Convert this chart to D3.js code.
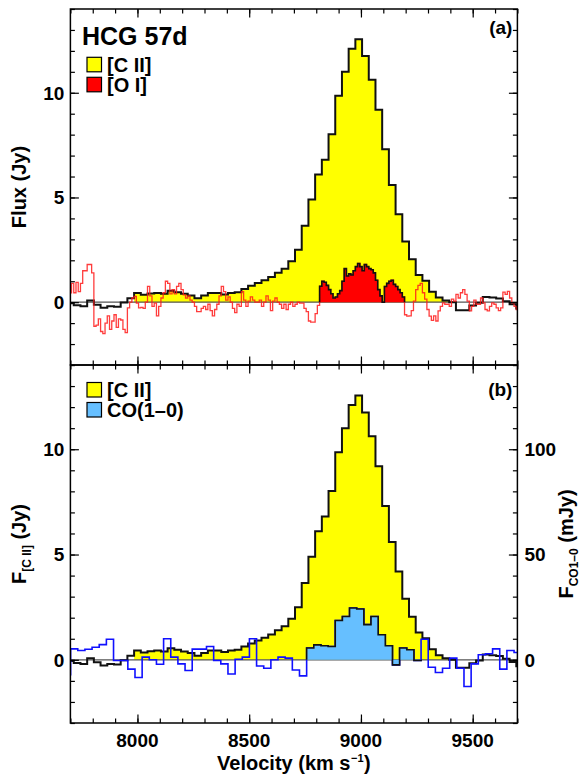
<!DOCTYPE html>
<html><head><meta charset="utf-8">
<script src="https://cdn.jsdelivr.net/npm/d3@7"></script>
<style>
body{margin:0;background:#fff}
svg{display:block}
text{font-family:"Liberation Sans",Arial,Helvetica,sans-serif;font-weight:bold;fill:#000}
</style></head>
<body><svg id="chart" width="582" height="777"></svg>
<script>
// ---------- DATA ----------
// [C II] spectrum (Jy), 30 km/s channels, first channel centred at 7700 km/s
const ciiStart = 7700, ciiStep = 30;
const ciiFlux = [-0.05,-0.15,-0.2,0.08,-0.12,-0.27,-0.2,-0.22,-0.02,0.19,
  0.44,0.35,0.41,0.44,0.4,0.55,0.48,0.4,0.32,0.19,
  0.32,0.44,0.44,0.37,0.44,0.48,0.63,0.78,0.92,1.05,
  1.2,1.4,1.6,1.95,2.5,3.65,4.9,6.1,6.8,8.02,
  9.86,11.0,12.1,12.55,11.75,10.62,9.19,7.3,5.6,4.2,
  2.9,2.05,1.3,1.02,0.5,0.22,0.08,0.0,-0.38,-0.38,
  -0.16,-0.03,0.25,0.22,0.18,0.05,-0.1,-0.3];
const ciiFillRange = [10, 56];   // channel indices with yellow fill

// [O I] spectrum (Jy), 10 km/s channels, first channel centred at 7700 km/s
const oiStart = 7700, oiStep = 10;
const oiFlux = [0.45,0.9,0.45,0.95,0.5,0.9,1.5,1.5,1.8,1.8,1.4,
  -1.15,-1.1,-0.8,-1.4,-1.5,-1.0,-0.65,-1.3,-0.9,-0.6,-1.2,-0.8,-0.85,-1.3,-1.45,
  -0.27,0.0,0.2,0.28,-0.05,-0.27,-0.25,-0.3,0.0,0.75,0.3,-0.2,-0.05,-0.65,-0.2,
  0.2,0.45,1.0,0.9,0.4,0.6,0.4,0.75,0.9,0.6,0.35,0.2,0.3,0.1,0.0,
  -0.2,-0.45,-0.45,-0.3,-0.2,-0.35,-0.1,-0.4,-0.65,-0.35,-0.1,0.3,0.75,0.5,0.1,
  0.25,0.0,-0.3,-0.5,-0.1,-0.2,0.5,0.1,-0.2,0.05,0.25,0.1,0.0,0.0,0.1,
  -0.2,0.0,0.3,0.1,-0.4,0.05,0.2,0.0,-0.1,-0.3,-0.1,-0.35,-0.1,0.0,-0.2,
  -0.1,0.0,-0.05,-0.05,-0.3,-0.45,-0.9,-0.95,-0.95,-0.55,-0.15,
  0.76,1.0,0.95,0.8,0.6,0.4,0.2,0.25,0.4,0.55,1.0,1.6,1.25,1.35,1.3,1.5,1.7,1.85,1.7,1.5,
  1.8,1.7,1.6,1.55,1.4,1.05,0.6,0.3,0.0,0.75,0.9,1.0,1.05,0.85,0.75,0.6,0.45,0.25,
  -0.6,-0.67,-0.65,-0.4,0.05,0.6,0.8,0.9,0.45,0.15,-0.35,-0.67,-0.87,-0.65,-0.9,-0.42,
  -0.2,-0.03,-0.1,-0.1,-0.2,0.15,0.05,0.37,0.2,0.45,0.6,0.37,0.05,-0.42,-0.2,0.1,
  -0.1,-0.1,0.2,-0.03,-0.35,-0.42,-0.2,-0.03,-0.1,-0.27,-0.4,-0.27,0.48,0.37,0.52,
  0.2,-0.03,-0.2,-0.35];
const oiFillRange = [112, 149];

// CO(1-0) spectrum (mJy), 32 km/s channels, first channel centred at 7685 km/s
const coStart = 7685, coStep = 32;
const coFlux = [-7.1,5.2,4.4,5.0,6.0,7.2,9.8,-0.3,-0.3,-4.4,
  -8.4,1.3,0.0,-2.1,10.0,1.3,-1.9,-5.1,5.1,5.1,
  6.3,-0.3,-1.9,-6.7,0.3,1.3,10.0,-2.9,-4.0,0.0,
  1.3,0.8,-4.8,-7.6,5.6,7.1,6.7,6.3,18.7,20.6,
  24.6,24.1,16.7,20.6,11.9,6.7,-2.4,5.6,4.8,-0.3,
  9.8,-3.5,-6.0,-4.0,0.8,-4.0,-12.7,-1.9,2.4,2.9,
  5.2,-4.4,4.4,3.5];
const coFillRange = [34, 49];

// axes
const velDomain = [7700, 9700];
const fluxDomain = [-3, 14];
const coDomain = [-30, 140];
const velMajor = [8000, 8500, 9000, 9500];
const velMinor = d3.range(7700, 9701, 100);
const fluxMajor = [0, 5, 10];
const fluxMinor = d3.range(-3, 14.01, 1);
const coMajor = [0, 50, 100];
const coMinor = d3.range(-30, 140.1, 10);

// ---------- LAYOUT ----------
const svg = d3.select("#chart");
const L = 70.4, R = 517.4, T = 9, M = 365, B = 723;
const x = d3.scaleLinear().domain(velDomain).range([L, R]);
const yA = d3.scaleLinear().domain(fluxDomain).range([M, T]);
const yB = d3.scaleLinear().domain(fluxDomain).range([B, M]);
const yCO = d3.scaleLinear().domain(coDomain).range([B, M]);

const defs = svg.append("defs");
defs.append("clipPath").attr("id","clipA").append("rect").attr("x",L).attr("y",T).attr("width",R-L).attr("height",M-T);
defs.append("clipPath").attr("id","clipB").append("rect").attr("x",L).attr("y",M).attr("width",R-L).attr("height",B-M);

function bins(start, step, vals){
  return vals.map((v,i)=>({a:start+i*step-step/2, b:start+i*step+step/2, v}));
}
function pts(bs){ const p=[]; bs.forEach(d=>{p.push([d.a,d.v]);p.push([d.b,d.v]);}); return p; }
function closedPts(bs){ const p=pts(bs); p.unshift([bs[0].a,0]); p.push([bs[bs.length-1].b,0]); return p; }

const ciiB = bins(ciiStart, ciiStep, ciiFlux);
const oiB = bins(oiStart, oiStep, oiFlux);
const coB = bins(coStart, coStep, coFlux);

function gens(ys){
  return {
    area: d3.area().x(d=>x(d[0])).y0(ys(0)).y1(d=>ys(d[1])),
    line: d3.line().x(d=>x(d[0])).y(d=>ys(d[1]))
  };
}

// ---------- PANEL A ----------
const gA = svg.append("g").attr("clip-path","url(#clipA)");
const pA = gens(yA);
const ciiFill = pts(ciiB.slice(ciiFillRange[0], ciiFillRange[1]+1));
gA.append("path").attr("d", pA.area(ciiFill)).attr("fill","#ffff00");
gA.append("path").attr("d", pA.line([[velDomain[0],0],[velDomain[1],0]])).attr("stroke","#555").attr("stroke-width",1.2).attr("fill","none");
gA.append("path").attr("d", pA.line(pts(ciiB))).attr("stroke","#111").attr("stroke-width",2).attr("fill","none");
gA.append("path").attr("d", pA.line(pts(oiB))).attr("stroke","#ff1a1a").attr("stroke-opacity",0.85).attr("stroke-width",1.3).attr("fill","none");
const oiSub = oiB.slice(oiFillRange[0], oiFillRange[1]+1);
gA.append("path").attr("d", pA.area(pts(oiSub))).attr("fill","#ff0000");
gA.append("path").attr("d", pA.line(closedPts(oiSub))).attr("stroke","#111").attr("stroke-width",1.6).attr("fill","none");

// ---------- PANEL B ----------
const gB = svg.append("g").attr("clip-path","url(#clipB)");
const pB = gens(yB);
gB.append("path").attr("d", pB.area(ciiFill)).attr("fill","#ffff00");
gB.append("path").attr("d", pB.line([[velDomain[0],0],[velDomain[1],0]])).attr("stroke","#555").attr("stroke-width",1.2).attr("fill","none");
gB.append("path").attr("d", pB.line(pts(ciiB))).attr("stroke","#111").attr("stroke-width",2).attr("fill","none");
const pCO = gens(yCO);
gB.append("path").attr("d", pCO.line(pts(coB))).attr("stroke","#1010ff").attr("stroke-width",1.6).attr("fill","none");
const coSub = coB.slice(coFillRange[0], coFillRange[1]+1);
gB.append("path").attr("d", pCO.area(pts(coSub))).attr("fill","#66bfff");
gB.append("path").attr("d", pCO.line(closedPts(coSub))).attr("stroke","#111").attr("stroke-width",1.6).attr("fill","none");

// ---------- AXES ----------
function ax(axisFn, scale, vals, size, tr){
  const a = axisFn(scale).tickValues(vals).tickSize(size).tickFormat("");
  const g = svg.append("g").attr("transform",tr).call(a);
  g.select(".domain").remove();
  g.selectAll("text").remove();
  g.selectAll("line").attr("stroke","#000").attr("stroke-width",1.2);
}
[[d3.axisBottom,T],[d3.axisTop,M],[d3.axisBottom,M],[d3.axisTop,B]].forEach(([f,yy])=>{
  ax(f, x, velMinor, 4.5, `translate(0,${yy})`);
  ax(f, x, velMajor, 8.5, `translate(0,${yy})`);
});
ax(d3.axisRight, yA, fluxMinor, 4.5, `translate(${L},0)`);
ax(d3.axisRight, yA, fluxMajor, 8.5, `translate(${L},0)`);
ax(d3.axisLeft, yA, fluxMinor, 4.5, `translate(${R},0)`);
ax(d3.axisLeft, yA, fluxMajor, 8.5, `translate(${R},0)`);
ax(d3.axisRight, yB, fluxMinor, 4.5, `translate(${L},0)`);
ax(d3.axisRight, yB, fluxMajor, 8.5, `translate(${L},0)`);
ax(d3.axisLeft, yCO, coMinor, 4.5, `translate(${R},0)`);
ax(d3.axisLeft, yCO, coMajor, 8.5, `translate(${R},0)`);

// frames
svg.append("rect").attr("x",L).attr("y",T).attr("width",R-L).attr("height",M-T).attr("fill","none").attr("stroke","#000").attr("stroke-width",1.5);
svg.append("rect").attr("x",L).attr("y",M).attr("width",R-L).attr("height",B-M).attr("fill","none").attr("stroke","#000").attr("stroke-width",1.5);

// tick labels
const fs = 19;
velMajor.forEach(v=>svg.append("text").attr("x",x(v)).attr("y",B+24).attr("text-anchor","middle").attr("font-size",fs).text(v));
fluxMajor.forEach(v=>{
  svg.append("text").attr("x",L-6).attr("y",yA(v)).attr("dy","0.36em").attr("text-anchor","end").attr("font-size",fs).text(v);
  svg.append("text").attr("x",L-6).attr("y",yB(v)).attr("dy","0.36em").attr("text-anchor","end").attr("font-size",fs).text(v);
});
coMajor.forEach(v=>svg.append("text").attr("x",R+7).attr("y",yCO(v)).attr("dy","0.36em").attr("text-anchor","start").attr("font-size",fs).text(v));

// x-axis title built from adjacent pieces (main text, superscript, closing paren)
(function(){
  const base = 770;
  const a = svg.append("text").attr("y",base).attr("font-size",20).text("Velocity (km s");
  const s = svg.append("text").attr("y",base-8).attr("font-size",11).text("\u22121");
  const c = svg.append("text").attr("y",base).attr("font-size",20).text(")");
  const wa = a.node().getComputedTextLength(), ws = s.node().getComputedTextLength(), wc = c.node().getComputedTextLength();
  const x0 = (L+R)/2 - (wa+ws+wc+1)/2;
  a.attr("x",x0); s.attr("x",x0+wa+0.5); c.attr("x",x0+wa+ws+1);
})();

svg.append("text").attr("transform",`translate(26,${(T+M)/2}) rotate(-90)`).attr("text-anchor","middle").attr("font-size",20).text("Flux (Jy)");

const tB = svg.append("text").attr("transform",`translate(26,${(M+B)/2}) rotate(-90)`).attr("text-anchor","middle").attr("font-size",20);
tB.append("tspan").text("F");
tB.append("tspan").attr("font-size",12).attr("dy",5).text("[C II]");
tB.append("tspan").attr("dy",-5).text(" (Jy)");

const tR = svg.append("text").attr("transform",`translate(573,${(M+B)/2}) rotate(-90)`).attr("text-anchor","middle").attr("font-size",20);
tR.append("tspan").text("F");
tR.append("tspan").attr("font-size",12).attr("dy",5).text("CO1\u20130");
tR.append("tspan").attr("dy",-5).text(" (mJy)");

// panel labels
svg.append("text").attr("x",R-5).attr("y",34).attr("text-anchor","end").attr("font-size",19).text("(a)");
svg.append("text").attr("x",R-5).attr("y",396).attr("text-anchor","end").attr("font-size",19).text("(b)");

// title & legends
svg.append("text").attr("x",82).attr("y",45).attr("font-size",25).text("HCG 57d");
function legend(items, y0){
  items.forEach((it,i)=>{
    const yy = y0 + i*20;
    svg.append("rect").attr("x",87).attr("y",yy).attr("width",14.5).attr("height",14.5).attr("fill",it.c).attr("stroke","#000").attr("stroke-width",1.2);
    svg.append("text").attr("x",107).attr("y",yy+14.5).attr("font-size",20).text(it.t);
  });
}
legend([{t:"[C II]",c:"#ffff00"},{t:"[O I]",c:"#ff0000"}], 57.3);
legend([{t:"[C II]",c:"#ffff00"},{t:"CO(1\u20130)",c:"#66bfff"}], 382.5);
</script></body></html>
